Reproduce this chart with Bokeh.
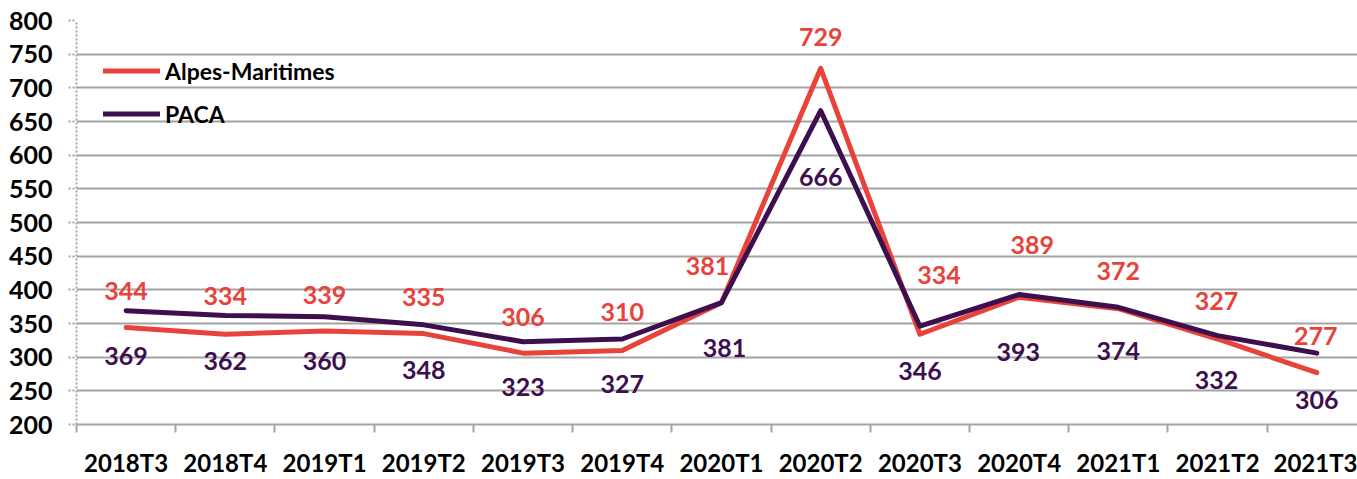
from bokeh.plotting import figure
from bokeh.models import (ColumnDataSource, Range1d, FixedTicker, Legend, LegendItem)
from bokeh.core.properties import value
from bokeh.embed import file_html
from bokeh.resources import INLINE

# ---- data ----
categories = ["2018T3", "2018T4", "2019T1", "2019T2", "2019T3", "2019T4", "2020T1",
              "2020T2", "2020T3", "2020T4", "2021T1", "2021T2", "2021T3"]
alpes_maritimes = [344, 334, 339, 335, 306, 310, 381, 729, 334, 389, 372, 327, 277]
paca = [369, 362, 360, 348, 323, 327, 381, 666, 346, 393, 374, 332, 306]
y_ticks = [200, 250, 300, 350, 400, 450, 500, 550, 600, 650, 700, 750, 800]

# ---- label placement (pixel offsets, style only) ----
am_dx = [0, 0, 0, 0, 0, 0, -14, 0, 19, 13, 0, -1, -1]
am_dy = [-37, -38, -36, -37, -36, -38, -37, -31, -59, -52, -38, -38, -37]
pa_dx = [0, 0, 0, 0, 0, 0, 3, 0, 0, -1, 0, -1, 0]
pa_dy = [45, 46, 44, 45, 45, 45, 45, 66, 45, 57, 44, 44, 47]

RED = "#E8433B"
PURPLE = "#3E0F4F"
GRID = "#A3A3A3"
FONT = "Lato"

xs = list(range(len(categories)))

p = figure(width=1357, height=479, output_backend="svg", toolbar_location=None,
           x_range=Range1d(-0.5, 12.41), y_range=Range1d(200, 800),
           min_border_left=76, min_border_right=0, min_border_top=20, min_border_bottom=53)
p.outline_line_color = None
p.background_fill_color = "white"

# axes
p.xaxis.ticker = FixedTicker(ticks=xs, minor_ticks=[i - 0.5 for i in xs])
p.xaxis.major_label_overrides = {i: c for i, c in zip(xs, categories)}
p.xaxis.major_tick_line_color = None
p.xaxis.major_tick_out = 0
p.xaxis.major_tick_in = 0
p.xaxis.minor_tick_line_color = GRID
p.xaxis.minor_tick_line_width = 2
p.xaxis.minor_tick_out = 8
p.xaxis.minor_tick_in = 0
p.xaxis.axis_line_color = GRID
p.xaxis.axis_line_width = 2
p.xaxis.major_label_standoff = 15
p.xaxis.major_label_text_font = FONT
p.xaxis.major_label_text_font_style = "bold"
p.xaxis.major_label_text_font_size = "24px"
p.xaxis.major_label_text_color = "black"

p.yaxis.ticker = FixedTicker(ticks=y_ticks, minor_ticks=[])
p.yaxis.axis_line_color = GRID
p.yaxis.axis_line_dash = "2 2"
p.yaxis.axis_line_width = 2
p.yaxis.major_tick_line_color = GRID
p.yaxis.major_tick_line_dash = "2 2"
p.yaxis.major_tick_line_width = 2
p.yaxis.major_tick_out = 8
p.yaxis.major_tick_in = 0
p.yaxis.minor_tick_line_color = None
p.yaxis.major_label_standoff = 16
p.yaxis.major_label_text_font = FONT
p.yaxis.major_label_text_font_style = "bold"
p.yaxis.major_label_text_font_size = "25px"
p.yaxis.major_label_text_color = "black"

p.xgrid.grid_line_color = None
p.ygrid.ticker = FixedTicker(ticks=y_ticks)
p.ygrid.grid_line_color = GRID
p.ygrid.grid_line_width = 2

# lines
r_am = p.line(xs, alpes_maritimes, line_color=RED, line_width=5, line_cap="round", line_join="round")
r_pa = p.line(xs, paca, line_color=PURPLE, line_width=5, line_cap="round", line_join="round")

# data labels
src_am = ColumnDataSource(dict(x=xs, y=alpes_maritimes, t=[str(v) for v in alpes_maritimes],
                               dx=am_dx, dy=am_dy))
src_pa = ColumnDataSource(dict(x=xs, y=paca, t=[str(v) for v in paca], dx=pa_dx, dy=pa_dy))
for src, col in ((src_am, RED), (src_pa, PURPLE)):
    p.text(x="x", y="y", text="t", x_offset="dx", y_offset="dy", source=src,
           text_color=col, text_font=value(FONT), text_font_style="bold",
           text_font_size="25px", text_align="center", text_baseline="middle")

legend = Legend(items=[LegendItem(label="Alpes-Maritimes", renderers=[r_am]),
                       LegendItem(label="PACA", renderers=[r_pa])],
                location=(27, 289), orientation="vertical")
legend.glyph_width = 57
legend.glyph_height = 43
legend.label_height = 43
legend.spacing = 0
legend.padding = 0
legend.margin = 0
legend.label_standoff = 5
legend.border_line_color = None
legend.background_fill_alpha = 0
legend.label_text_font = FONT
legend.label_text_font_style = "bold"
legend.label_text_font_size = "23px"
legend.label_text_color = "black"
p.add_layout(legend, "center")

open("out.html", "w").write(file_html(p, INLINE))
